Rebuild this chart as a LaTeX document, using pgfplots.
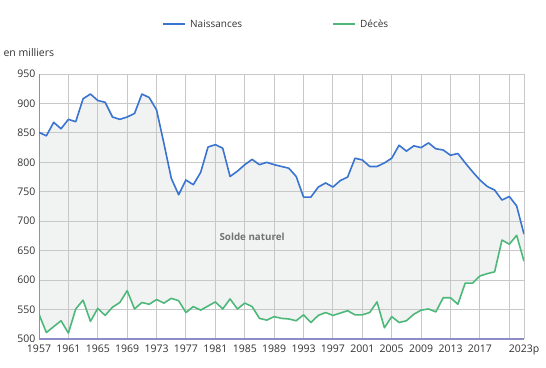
\documentclass[border=0pt]{standalone}
\usepackage{fontspec}
\setmainfont{Open Sans}
\usepackage{pgfplots}
\usepackage{pgfplotstable}
\pgfplotsset{compat=1.18}
\definecolor{naiss}{HTML}{3A74D1}
\definecolor{deces}{HTML}{4DB87A}
\definecolor{fillc}{HTML}{F1F2F2}
\definecolor{axl}{HTML}{8E8CC7}
\definecolor{gridc}{HTML}{C8C8C8}
\definecolor{txt}{HTML}{333333}
\pgfplotstableread{
year naiss deces
1957 851 542
1958 845 511
1959 868 521
1960 857 531
1961 873 510
1962 869 551
1963 908 566
1964 916 530
1965 905 552
1966 902 540
1967 877 554
1968 873 562
1969 877 582
1970 883 551
1971 916 562
1972 910 559
1973 889 567
1974 832 561
1975 773 569
1976 745 565
1977 770 545
1978 762 555
1979 783 549
1980 826 556
1981 830 563
1982 824 551
1983 776 568
1984 785 551
1985 796 561
1986 805 555
1987 796 535
1988 800 532
1989 796 538
1990 793 535
1991 790 534
1992 776 531
1993 741 541
1994 741 528
1995 758 540
1996 765 545
1997 758 540
1998 769 544
1999 775 548
2000 807 541
2001 804 541
2002 793 545
2003 793 563
2004 799 519
2005 807 538
2006 829 528
2007 819 531
2008 828 542
2009 825 549
2010 833 551
2011 823 546
2012 821 570
2013 812 570
2014 815 559
2015 799 595
2016 784 595
2017 770 607
2018 759 611
2019 753 614
2020 736 668
2021 742 661
2022 726 676
2023 678 632
}\datatable
% polygon of the "solde naturel" area: births forward, deaths backward
\pgfplotstableread{
x y
1957 851
1958 845
1959 868
1960 857
1961 873
1962 869
1963 908
1964 916
1965 905
1966 902
1967 877
1968 873
1969 877
1970 883
1971 916
1972 910
1973 889
1974 832
1975 773
1976 745
1977 770
1978 762
1979 783
1980 826
1981 830
1982 824
1983 776
1984 785
1985 796
1986 805
1987 796
1988 800
1989 796
1990 793
1991 790
1992 776
1993 741
1994 741
1995 758
1996 765
1997 758
1998 769
1999 775
2000 807
2001 804
2002 793
2003 793
2004 799
2005 807
2006 829
2007 819
2008 828
2009 825
2010 833
2011 823
2012 821
2013 812
2014 815
2015 799
2016 784
2017 770
2018 759
2019 753
2020 736
2021 742
2022 726
2023 678
2023 632
2022 676
2021 661
2020 668
2019 614
2018 611
2017 607
2016 595
2015 595
2014 559
2013 570
2012 570
2011 546
2010 551
2009 549
2008 542
2007 531
2006 528
2005 538
2004 519
2003 563
2002 545
2001 541
2000 541
1999 548
1998 544
1997 540
1996 545
1995 540
1994 528
1993 541
1992 531
1991 534
1990 535
1989 538
1988 532
1987 535
1986 555
1985 561
1984 551
1983 568
1982 551
1981 563
1980 556
1979 549
1978 555
1977 545
1976 565
1975 569
1974 561
1973 567
1972 559
1971 562
1970 551
1969 582
1968 562
1967 554
1966 540
1965 552
1964 530
1963 566
1962 551
1961 510
1960 531
1959 521
1958 511
1957 542
}\polytable
\begin{document}
\begin{tikzpicture}
\begin{axis}[at={(39pt,28pt)}, anchor=south west, scale only axis,
  width=485pt, height=265pt,
  set layers,
  xmin=1957, xmax=2023, ymin=500, ymax=950,
  xtick={1957,1961,1965,1969,1973,1977,1981,1985,1989,1993,1997,2001,2005,2009,2013,2017,2021,2023},
  xticklabels={1957,1961,1965,1969,1973,1977,1981,1985,1989,1993,1997,2001,2005,2009,2013,2017,,2023p},
  ytick={500,550,...,950},
  grid=major,
  major grid style={draw=gridc, line width=1pt},
  major tick length=0pt,
  axis lines=left, axis line style={-, draw=axl},
  x axis line style={line width=1.6pt},
  y axis line style={line width=0.6pt},
  tick label style={font=\fontsize{10.5}{12}\selectfont, text=txt},
  /pgf/number format/assume math mode=true,
  /pgf/number format/1000 sep={},
  xticklabel style={yshift=-2pt},
]
\addplot[fill=fillc, draw=none, forget plot, on layer=axis background] table[x=x,y=y]{\polytable} -- cycle;
\addplot[naiss, line width=1.6pt, line join=round] table[x=year,y=naiss]{\datatable};
\addplot[deces, line width=1.6pt, line join=round] table[x=year,y=deces]{\datatable};
\node[font=\bfseries\fontsize{9.8}{11}\selectfont, text=black!55] at (axis cs:1986,673) {Solde naturel};
\end{axis}
\draw[naiss, line width=1.6pt] (163pt,343pt) -- (185pt,343pt);
\node[anchor=west, inner sep=0pt, font=\fontsize{10}{12}\selectfont, text=txt] at (190pt,343pt) {Naissances};
\draw[deces, line width=1.6pt] (333pt,343pt) -- (355pt,343pt);
\node[anchor=west, inner sep=0pt, font=\fontsize{10}{12}\selectfont, text=txt] at (360pt,343pt) {Décès};
\node[anchor=west, font=\fontsize{10.5}{12}\selectfont, text=txt] at (0pt,314pt) {en milliers};
\pgfresetboundingbox
\path[use as bounding box] (0pt,0pt) rectangle (546pt,367pt);
\end{tikzpicture}
\end{document}
